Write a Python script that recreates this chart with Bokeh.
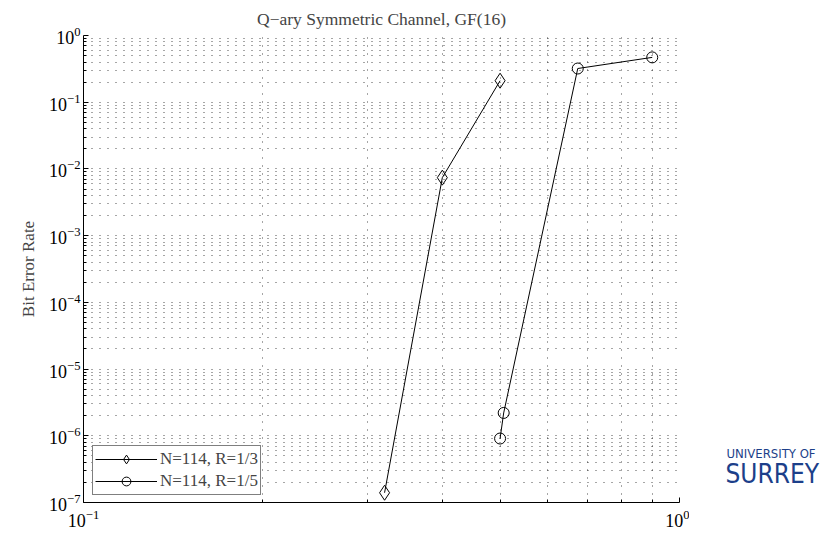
from bokeh.plotting import figure
from bokeh.layouts import row
from bokeh.models import FixedTicker, LogTickFormatter, Legend, LegendItem, Range1d
from bokeh.core.properties import value
from bokeh.embed import file_html
from bokeh.resources import INLINE

# data
x_r13 = [0.32, 0.40, 0.50]
ber_r13 = [1.4e-7, 7.4e-3, 0.21]
x_r15 = [0.50, 0.507, 0.675, 0.90]
ber_r15 = [9.1e-7, 2.2e-6, 0.32, 0.47]
series_labels = ["N=114, R=1/3", "N=114, R=1/5"]

x_major = [0.1, 1.0]
x_minor = [0.2, 0.3, 0.4, 0.5, 0.6, 0.7, 0.8, 0.9]
y_major = [10.0 ** k for k in range(-7, 1)]
y_minor = [m * 10.0 ** k for k in range(-7, 0) for m in range(2, 10)]

logo_lines = ["UNIVERSITY OF", "SURREY"]

SERIF = "Liberation Serif"
H = 532

p = figure(
    x_axis_type="log", y_axis_type="log",
    x_range=Range1d(0.1, 1.0), y_range=Range1d(1e-7, 1.0),
    frame_width=596, frame_height=467,
    min_border_left=83, min_border_right=10, min_border_top=35, min_border_bottom=H - 35 - 467,
    output_backend="svg", toolbar_location=None,
    title="Q\u2212ary Symmetric Channel, GF(16)",
)
p.background_fill_color = "white"
p.border_fill_color = "white"
p.outline_line_color = None

p.title.text_font = SERIF
p.title.text_font_size = "17.5px"
p.title.text_font_style = "normal"
p.title.align = "center"
p.title.vertical_align = "top"
p.title.standoff = 10

xt = FixedTicker(ticks=x_major, minor_ticks=x_minor)
yt = FixedTicker(ticks=y_major, minor_ticks=y_minor)
p.xaxis.ticker = xt
p.yaxis.ticker = yt
p.xgrid.ticker = xt
p.ygrid.ticker = yt
p.xaxis.formatter = LogTickFormatter()
p.yaxis.formatter = LogTickFormatter()

for ax in (p.xaxis, p.yaxis):
    ax.axis_line_color = "black"
    ax.major_tick_line_color = "black"
    ax.minor_tick_line_color = "black"
    ax.major_tick_in = 5
    ax.major_tick_out = 0
    ax.minor_tick_in = 3
    ax.minor_tick_out = 0
    ax.major_label_text_font = SERIF
    ax.major_label_text_font_size = "18px"
    ax.major_label_text_color = "black"
    ax.major_label_standoff = 3
p.xaxis.major_label_standoff = 7

p.yaxis.axis_label = "Bit Error Rate"
p.yaxis.axis_label_text_font = SERIF
p.yaxis.axis_label_text_font_size = "17px"
p.yaxis.axis_label_text_font_style = "normal"
p.yaxis.axis_label_standoff = 8

p.grid.grid_line_color = "black"
p.grid.grid_line_alpha = 0.7
p.grid.grid_line_dash = "1 7"
p.grid.minor_grid_line_color = "black"
p.grid.minor_grid_line_alpha = 0.7
p.grid.minor_grid_line_dash = "1 7"

l1 = p.line(x_r13, ber_r13, line_color="black", line_width=1)
m1 = p.scatter(x_r13, ber_r13, marker="diamond", size=15, line_color="black",
               fill_alpha=0, line_width=1)
l2 = p.line(x_r15, ber_r15, line_color="black", line_width=1)
m2 = p.scatter(x_r15, ber_r15, marker="circle", size=11, line_color="black",
               fill_alpha=0, line_width=1)

legend = Legend(
    items=[LegendItem(label=series_labels[0], renderers=[l1, m1]),
           LegendItem(label=series_labels[1], renderers=[l2, m2])],
    location=(9, 7),
)
legend.label_text_font = SERIF
legend.label_text_font_size = "17px"
legend.glyph_width = 62
legend.glyph_height = 22
legend.label_standoff = 3
legend.label_height = 22
legend.padding = 2
legend.spacing = 0
legend.margin = 0
legend.border_line_color = "black"
legend.border_line_width = 1
legend.background_fill_color = "white"
legend.background_fill_alpha = 1
p.add_layout(legend)

# logo panel at the right
W2 = 140
q = figure(width=W2, height=H, x_range=Range1d(0, W2), y_range=Range1d(0, H),
           min_border=0, x_axis_location=None, y_axis_location=None,
           output_backend="svg", toolbar_location=None)
q.grid.visible = False
q.outline_line_color = None
q.background_fill_color = "white"
q.border_fill_color = "white"
navy = "#1c3f8a"
q.text(x=[37], y=[H - 476], text=[logo_lines[0]], text_font=value("DejaVu Sans Condensed"),
       text_font_size="13px", text_color=navy, text_baseline="alphabetic")
q.text(x=[36], y=[H - 499], text=[logo_lines[1]], text_font=value("DejaVu Sans Condensed"),
       text_font_size="26px", text_color=navy, text_baseline="alphabetic")

layout = row(p, q)
open("out.html", "w").write(file_html(layout, INLINE))
